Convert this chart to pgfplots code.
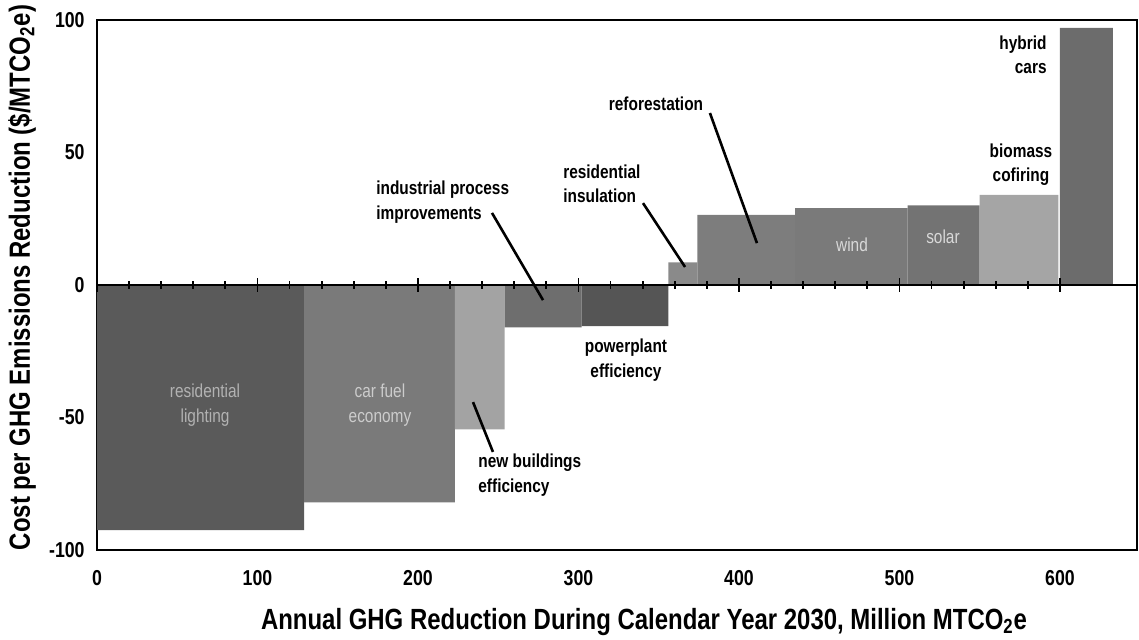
\documentclass[border=0pt]{standalone}
\usepackage{fontspec}
\setmainfont{Liberation Sans}[FakeStretch=0.82]
\usepackage{pgfplots}
\pgfplotsset{compat=1.18}
\definecolor{c1}{HTML}{5A5A5A}
\definecolor{c2}{HTML}{7A7A7A}
\definecolor{c3}{HTML}{A3A3A3}
\definecolor{c4}{HTML}{6E6E6E}
\definecolor{c5}{HTML}{555555}
\definecolor{c6}{HTML}{8A8A8A}
\definecolor{c7}{HTML}{7D7D7D}
\definecolor{c8}{HTML}{7A7A7A}
\definecolor{c9}{HTML}{737373}
\definecolor{c10}{HTML}{A5A5A5}
\definecolor{c11}{HTML}{6C6C6C}
\begin{document}
\begin{tikzpicture}
\pgfplotsset{common/.style={width=520pt,height=265pt,scale only axis,
  xmin=0,xmax=648,ymin=-100,ymax=100}}
\begin{axis}[common,
  axis line style={line width=1pt},
  xtick={0,100,...,600}, ytick={-100,-50,0,50,100},
  major tick length=0pt,
  /pgf/number format/assume math mode=true,
  ticklabel style={font=\fontsize{10.8}{12}\selectfont\bfseries},
  xticklabel style={inner sep=0pt,anchor=north,yshift=-10pt},
  yticklabel style={inner sep=0pt,anchor=east,xshift=-6pt},
  xlabel={Annual GHG Reduction During Calendar Year 2030, Million MTCO\textsubscript{2}e},
  ylabel={Cost per GHG Emissions Reduction (\$/MTCO\textsubscript{2}e)},
  label style={font=\fontsize{14.6}{16}\selectfont\bfseries},
  xlabel style={at={(axis description cs:0.526,-0.136)},anchor=center},
  ylabel style={at={(axis description cs:-0.072,0.514)},anchor=center},
  clip=false]
\addplot[fill=c1,draw=none] coordinates {(0,0) (0,-92.5) (129,-92.5) (129,0)} \closedcycle;
\addplot[fill=c2,draw=none] coordinates {(129,0) (129,-82) (223,-82) (223,0)} \closedcycle;
\addplot[fill=c3,draw=none] coordinates {(223,0) (223,-54.5) (254,-54.5) (254,0)} \closedcycle;
\addplot[fill=c4,draw=none] coordinates {(254,0) (254,-16) (302,-16) (302,0)} \closedcycle;
\addplot[fill=c5,draw=none] coordinates {(302,0) (302,-15.5) (356,-15.5) (356,0)} \closedcycle;
\addplot[fill=c6,draw=none] coordinates {(356,0) (356,8.5) (374,8.5) (374,0)} \closedcycle;
\addplot[fill=c7,draw=none] coordinates {(374,0) (374,26.5) (435,26.5) (435,0)} \closedcycle;
\addplot[fill=c8,draw=none] coordinates {(435,0) (435,29) (505,29) (505,0)} \closedcycle;
\addplot[fill=c9,draw=none] coordinates {(505,0) (505,30) (550,30) (550,0)} \closedcycle;
\addplot[fill=c10,draw=none] coordinates {(550,0) (550,34) (599,34) (599,0)} \closedcycle;
\addplot[fill=c11,draw=none] coordinates {(600,0) (600,97) (633,97) (633,0)} \closedcycle;
% labels
\begin{scope}[every node/.style={font=\fontsize{9.4}{12.2}\selectfont\bfseries,inner sep=0pt}]
\node[align=center,text=black!30,font=\fontsize{9.4}{12.2}\selectfont] at (axis cs:67.3,-45.3) {residential\\lighting};
\node[align=center,text=black!20,font=\fontsize{9.4}{12.2}\selectfont] at (axis cs:176.3,-45.3) {car fuel\\economy};
\node[align=left,anchor=west] at (axis cs:237.4,-71.7) {new buildings\\efficiency};
\node[align=left,anchor=west] at (axis cs:173.8,31.3) {industrial process\\improvements};
\node[align=left,anchor=west] at (axis cs:290.3,38.1) {residential\\insulation};
\node at (axis cs:348.3,68.3) {reforestation};
\node[align=center] at (axis cs:329.6,-28.3) {powerplant\\efficiency};
\node[text=black!15,font=\fontsize{9.4}{12.2}\selectfont] at (axis cs:470.4,15.1) {wind};
\node[text=black!15,font=\fontsize{9.4}{12.2}\selectfont] at (axis cs:527.1,18.1) {solar};
\node[align=center] at (axis cs:575.7,45.3) {biomass\\cofiring};
\node[align=right,anchor=east] at (axis cs:591.9,86.8) {hybrid\\cars};
\end{scope}
\draw[line width=1.3pt] (axis cs:234.3,-44.2) -- (axis cs:246.7,-63.0);
\draw[line width=1.3pt] (axis cs:246.1,27.2) -- (axis cs:277.9,-5.7);
\draw[line width=1.3pt] (axis cs:340.2,30.9) -- (axis cs:366.4,6.8);
\draw[line width=1.3pt] (axis cs:381.9,64.9) -- (axis cs:411.2,15.8);
\end{axis}
\begin{axis}[common,
  axis x line=middle, axis y line=none,
  x axis line style={-,line width=1pt},
  xtick={0,100,...,600}, xticklabels={}, ytick=\empty,
  minor x tick num=4,
  major tick length=7pt, minor tick length=4pt,
  tick align=center,
  tick style={black,line width=0.9pt}]
\end{axis}
\pgfresetboundingbox
\path (-48.5pt,-45pt) rectangle (521pt,275pt);
\end{tikzpicture}
\end{document}
